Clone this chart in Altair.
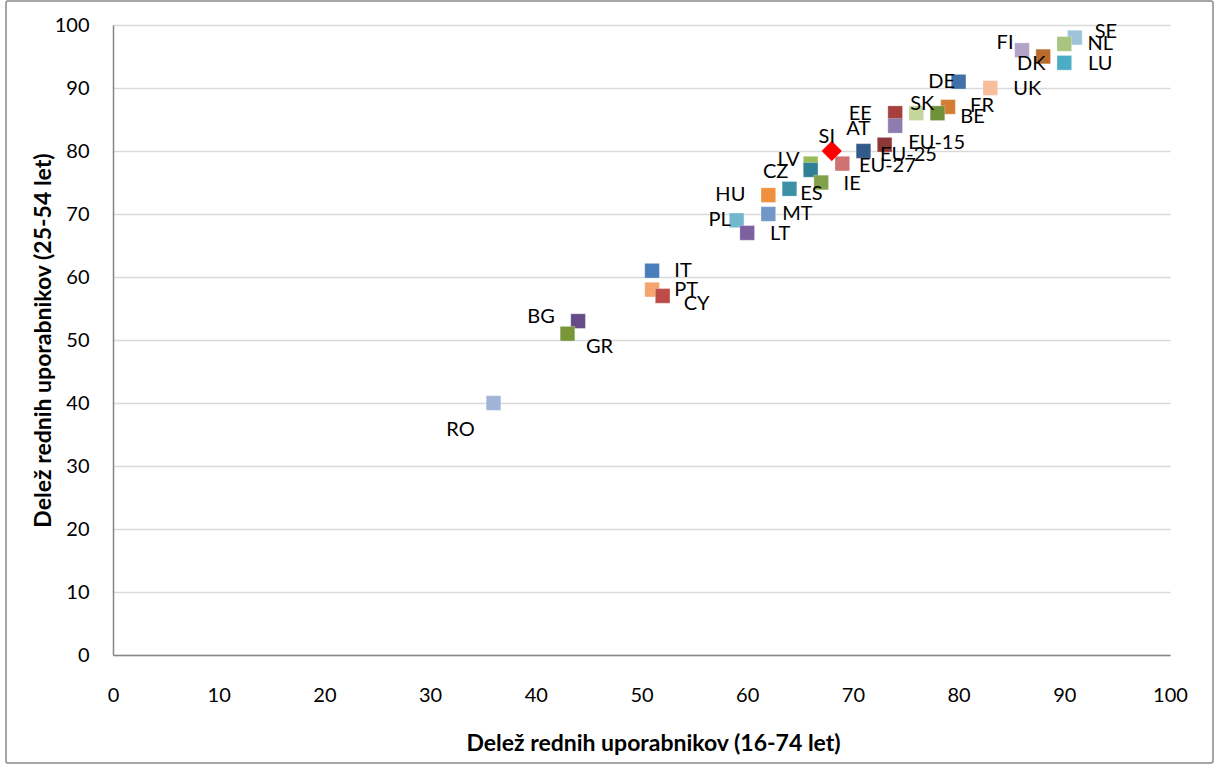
import altair as alt
import pandas as pd

# Share of regular internet users by country: ages 16-74 (x) vs ages 25-54 (y)
countries = ["SE", "NL", "FI", "DK", "LU", "DE", "UK", "EE", "SK", "FR",
             "BE", "AT", "EU-15", "EU-25", "EU-27", "LV", "CZ", "IE", "ES",
             "HU", "MT", "PL", "LT", "IT", "PT", "CY", "BG", "GR", "RO", "SI"]
share_16_74 = [91, 90, 86, 88, 90, 80, 83, 74, 76, 79,
               78, 74, 73, 71, 69, 66, 66, 67, 64,
               62, 62, 59, 60, 51, 51, 52, 44, 43, 36, 68]
share_25_54 = [98, 97, 96, 95, 94, 91, 90, 86, 86, 87,
               86, 84, 81, 80, 78, 78, 77, 75, 74,
               73, 70, 69, 67, 61, 58, 57, 53, 51, 40, 80]

# Marker fill per country
marker_colors = ["#9DC3D9", "#A9C47F", "#B3A2C7", "#B96A2C", "#4BACC6",
                 "#4170A8", "#F8BD9A", "#A5403D", "#C3D69B", "#D47E34",
                 "#70913A", "#8F7CAE", "#8C3836", "#33598A", "#CF7372",
                 "#9BBB59", "#2F7F95", "#83A04A", "#3D91A6", "#F0903F",
                 "#7396C8", "#71B8CD", "#7D60A0", "#4A7EBB", "#F5A46D",
                 "#BE4B48", "#654C89", "#77973A", "#A0B4D7", "#FF0000"]

# Label placement: offset of each label centre from its marker, in pixels
label_dx = [31, 36, -17, -12, 36, -17, 37, -35, 6, 34,
            35, -37, 52, 45, 45, -22, -35, 31, 22,
            -38, 29, -17, 33, 31, 34, 34, -37, 32, -33, -5]
label_dy = [-6, 0, -7, 7, 1, 0, 1, 1, -9, -1,
            4, 3, -2, 4, 2, -4, 2, 1, 5,
            0, 0, 0, 1, 0, 0, 8, -4, 13, 27, -14]

W, H = 1057, 630
FONT = "Lato"

df = pd.DataFrame({
    "drzava": countries,
    "x": share_16_74,
    "y": share_25_54,
    "barva": marker_colors,
    "dx": label_dx,
    "dy": label_dy,
})
df["oblika"] = ["diamond" if c == "SI" else "square" for c in countries]
df["velikost"] = [420 if c == "SI" else 215 for c in countries]

x_scale = alt.Scale(domain=[0, 100], nice=False)
y_scale = alt.Scale(domain=[0, 100], nice=False)
ticks = list(range(0, 101, 10))

base = alt.Chart(df)

points = base.mark_point(filled=True, opacity=1, strokeWidth=0.8).encode(
    x=alt.X("x:Q", scale=x_scale,
            axis=alt.Axis(values=ticks, grid=False, ticks=False, tickSize=0,
                          labelFlush=False,
                          domainColor="#868686", domainWidth=1.5,
                          labelFont=FONT, labelFontSize=20, labelColor="#000000",
                          labelPadding=30,
                          title="Delež rednih uporabnikov (16-74 let)",
                          titleFont=FONT, titleFontSize=23, titleFontWeight="bold",
                          titleColor="#000000", titleX=540, titleY=88,
                          titleBaseline="middle", titleAlign="center")),
    y=alt.Y("y:Q", scale=y_scale,
            axis=alt.Axis(values=ticks, grid=True, gridColor="#D9D9D9",
                          gridWidth=1.5, ticks=False, tickSize=0,
                          labelFlush=False,
                          domainColor="#868686", domainWidth=1.5,
                          labelFont=FONT, labelFontSize=20, labelColor="#000000",
                          labelPadding=24,
                          title="Delež rednih uporabnikov (25-54 let)",
                          titleFont=FONT, titleFontSize=23, titleFontWeight="bold",
                          titleColor="#000000", titleAngle=270, titleX=-70,
                          titleY=315, titleBaseline="middle", titleAlign="center")),
    color=alt.Color("barva:N", scale=None),
    stroke=alt.value("#FFFFFF"),
    strokeOpacity=alt.value(0.35),
    shape=alt.Shape("oblika:N", scale=None),
    size=alt.Size("velikost:Q", scale=None),
)

labels = base.transform_calculate(
    lx=f"datum.x + datum.dx * 100 / {W}",
    ly=f"datum.y - datum.dy * 100 / {H}",
).mark_text(font=FONT, fontSize=20, color="#000000",
            align="center", baseline="middle").encode(
    x=alt.X("lx:Q", scale=x_scale),
    y=alt.Y("ly:Q", scale=y_scale),
    text="drzava:N",
)

frame = alt.Chart(pd.DataFrame({"k": [0]})).mark_rect(
    fillOpacity=0, stroke="#898989", strokeWidth=1.5, cornerRadius=2
).encode(
    x=alt.value(-107), x2=alt.value(1100),
    y=alt.value(-24), y2=alt.value(738),
)

chart = alt.layer(frame, points, labels).properties(
    width=W, height=H,
    autosize=alt.AutoSizeParams(type="none"),
    padding={"left": 113, "top": 25, "right": 46, "bottom": 109},
    background="#FFFFFF",
).configure_view(stroke=None)

chart.save("out.html", embed_options={"renderer": "svg", "actions": False})
